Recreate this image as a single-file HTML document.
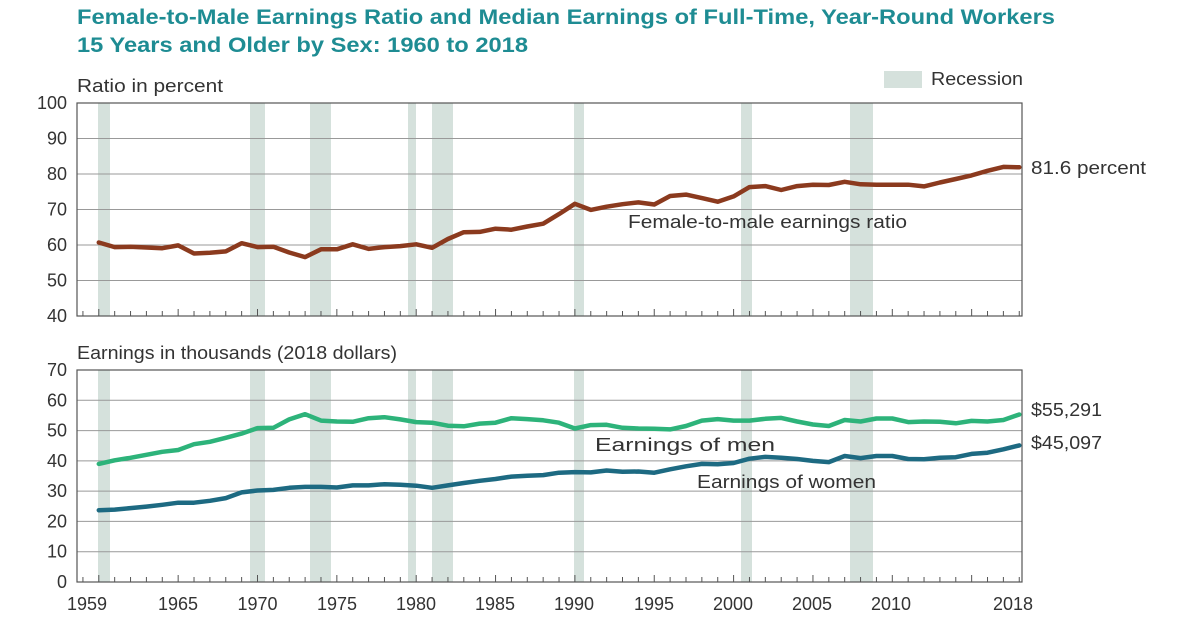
<!DOCTYPE html>
<html><head><meta charset="utf-8"><style>
body{margin:0;background:#fff;}
svg{display:block;font-family:"Liberation Sans",sans-serif;}
</style></head><body>
<svg id="s" width="1200" height="631" xmlns="http://www.w3.org/2000/svg"></svg>
<script>
const s=document.getElementById('s');
const X=y=>257.5+(y-1970)*15.87;
const L=77,R=1022;
const T1=103,B1=316,T2=370,B2=582;
const yr=v=>B1-(v-40)*(B1-T1)/60;
const ye=v=>B2-v*(B2-T2)/70;
let h='';
const tx=(x,y,w,fs,t,extra='')=>`<text x="${x}" y="${y}" font-size="${fs}" textLength="${w}" lengthAdjust="spacingAndGlyphs" ${extra}>${t}</text>`;
h+=tx(77,24,978,21,'Female-to-Male Earnings Ratio and Median Earnings of Full-Time, Year-Round Workers','font-weight="bold" fill="#1e8c93"');
h+=tx(77,52,451,21,'15 Years and Older by Sex: 1960 to 2018','font-weight="bold" fill="#1e8c93"');
h+='<rect x="884" y="71" width="38" height="17" fill="#d5e1dc"/>'+tx(931,85,92,18,'Recession','fill="#333"');
h+=tx(77,92,146,18,'Ratio in percent','fill="#333"');
h+=tx(77,359,320,18,'Earnings in thousands (2018 dollars)','fill="#333"');
const rec=[[98,110],[250,265],[310,331],[408,416],[432,453],[574,584],[741,752],[850,873]];
for(const [T,B] of [[T1,B1],[T2,B2]]) for(const [a,b] of rec) h+=`<rect x="${a}" y="${T}" width="${b-a}" height="${B-T}" fill="#d5e1dc"/>`;
for(let v=40;v<=100;v+=10){const y=yr(v);h+=`<line x1="${L}" x2="${R}" y1="${y}" y2="${y}" stroke="#999" stroke-width="1"/><text x="67" y="${y+6}" text-anchor="end" font-size="18" fill="#333">${v}</text>`;}
for(let v=0;v<=70;v+=10){const y=ye(v);h+=`<line x1="${L}" x2="${R}" y1="${y}" y2="${y}" stroke="#999" stroke-width="1"/><text x="67" y="${y+6}" text-anchor="end" font-size="18" fill="#333">${v}</text>`;}
h+=`<rect x="${L}" y="${T1}" width="${R-L}" height="${B1-T1}" fill="none" stroke="#555" stroke-width="1.2"/>`;
h+=`<rect x="${L}" y="${T2}" width="${R-L}" height="${B2-T2}" fill="none" stroke="#555" stroke-width="1.2"/>`;
for(const B of [B1,B2]) for(let y=1959;y<=2018;y++){const x=X(y);const m=(y%5==0);h+=`<line x1="${x}" x2="${x}" y1="${B}" y2="${B-(m?7:5)}" stroke="#555"/>`;}
const labs=[[1959,87],[1965,178],[1970,257.5],[1975,337],[1980,416],[1985,495],[1990,574],[1995,654],[2000,733],[2005,812],[2010,891],[2018,1013]];
for(const [t,x] of labs) h+=`<text x="${x}" y="610" text-anchor="middle" font-size="18" fill="#333">${t}</text>`;
const ratio=[60.7,59.4,59.5,59.3,59.1,59.9,57.6,57.8,58.2,60.5,59.4,59.5,57.9,56.6,58.8,58.8,60.2,58.9,59.4,59.7,60.2,59.2,61.7,63.6,63.7,64.6,64.3,65.2,66.0,68.7,71.6,69.9,70.8,71.5,72.0,71.4,73.8,74.2,73.2,72.2,73.7,76.3,76.6,75.5,76.6,77.0,76.9,77.8,77.1,77.0,77.0,77.0,76.5,77.6,78.6,79.6,80.9,82.0,81.9];
const men=[39.0,40.2,41,42,43,43.6,45.5,46.3,47.6,49,50.8,50.9,53.7,55.4,53.3,53.0,52.9,54.1,54.4,53.7,52.8,52.6,51.6,51.4,52.3,52.6,54.1,53.8,53.4,52.6,50.7,51.8,51.9,50.9,50.7,50.6,50.4,51.5,53.3,53.8,53.3,53.3,53.9,54.2,53.0,52.0,51.5,53.5,53.0,54.0,54.0,52.8,53.0,52.9,52.4,53.2,53.0,53.5,55.3];
const wom=[23.7,23.9,24.4,24.9,25.5,26.2,26.2,26.8,27.7,29.6,30.2,30.4,31.1,31.4,31.4,31.2,31.9,31.9,32.3,32.1,31.8,31.1,31.9,32.7,33.4,34.0,34.8,35.1,35.3,36.1,36.3,36.2,36.8,36.4,36.5,36.1,37.2,38.2,39.0,38.9,39.3,40.7,41.3,41.0,40.6,40.0,39.6,41.6,40.9,41.6,41.6,40.6,40.5,41.0,41.2,42.3,42.7,43.8,45.1];
const line=(d,f,c)=>`<polyline fill="none" stroke="${c}" stroke-width="4.5" stroke-linejoin="round" stroke-linecap="round" points="${d.map((v,i)=>X(1960+i).toFixed(1)+','+f(v).toFixed(1)).join(' ')}"/>`;
h+=line(ratio,yr,'#8b3a1e');h+=line(men,ye,'#2db37a');h+=line(wom,ye,'#1d6a82');
h+=tx(628,228,279,18,'Female-to-male earnings ratio','fill="#333"');
h+=tx(1031,174,115,18,'81.6 percent','fill="#333"');
h+=tx(595,451,180,18,'Earnings of men','fill="#333"');
h+=tx(697,488,179,18,'Earnings of women','fill="#333"');
h+=tx(1031,416,71,18,'$55,291','fill="#333"');
h+=tx(1031,449,71,18,'$45,097','fill="#333"');
s.innerHTML=h;
</script>
</body></html>
